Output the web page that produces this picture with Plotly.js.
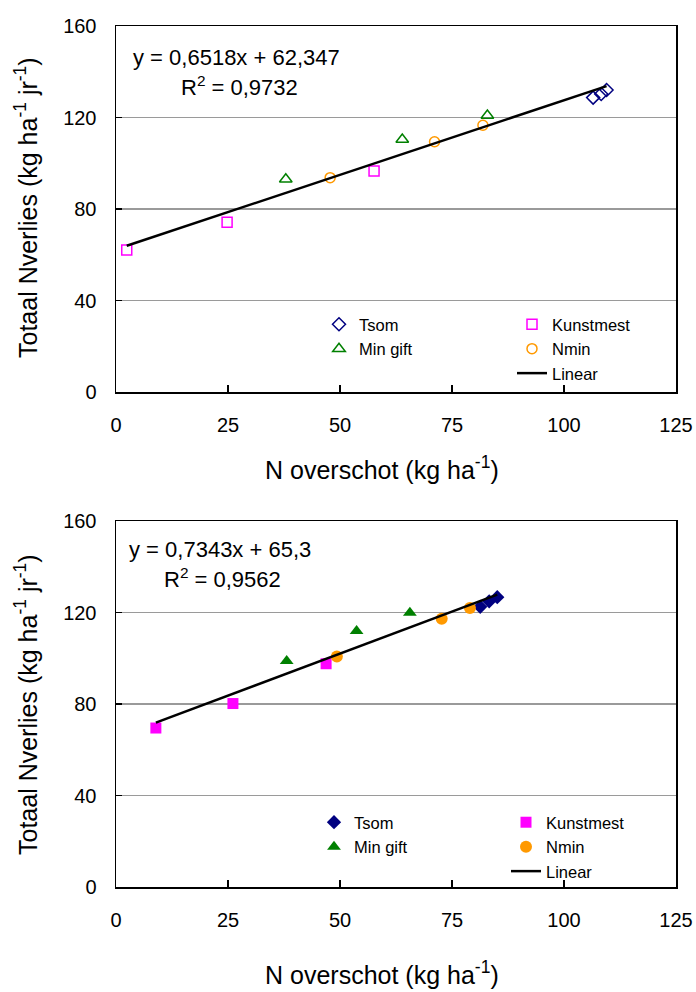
<!DOCTYPE html>
<html>
<head>
<meta charset="utf-8">
<script src="https://cdn.plot.ly/plotly-3.0.1.min.js"></script>
<style>html,body{margin:0;padding:0;background:#fff;}#chart{width:696px;height:992px;}</style>
</head>
<body>
<div id="chart"></div>
<script>
// ---- Data: top panel (open markers) ----
const tsomX1 = [106.5, 108.3, 109.5];
const tsomY1 = [128.7, 130.3, 132.0];
const kunstX1 = [2.4, 24.8, 57.6];
const kunstY1 = [62.1, 74.2, 96.6];
const mingiftX1 = [37.9, 63.9, 82.9];
const mingiftY1 = [93.0, 110.4, 120.9];
const nminX1 = [47.8, 71.1, 81.9];
const nminY1 = [93.7, 109.4, 116.6];
const slope1 = 0.6518, intercept1 = 62.347, r2_1 = "0,9732";

// ---- Data: bottom panel (filled markers) ----
const tsomX2 = [81.3, 83.3, 85.1];
const tsomY2 = [122.5, 124.9, 126.7];
const kunstX2 = [8.9, 26.1, 46.9];
const kunstY2 = [69.5, 80.2, 97.6];
const mingiftX2 = [38.1, 53.7, 65.6];
const mingiftY2 = [98.8, 111.9, 119.9];
const nminX2 = [49.3, 72.7, 79.0];
const nminY2 = [100.8, 117.3, 122.0];
const slope2 = 0.7343, intercept2 = 65.3, r2_2 = "0,9562";

const xTicks = [0, 25, 50, 75, 100, 125];
const yTicks = [0, 40, 80, 120, 160];
const seriesNames = ["Tsom", "Kunstmest", "Min gift", "Nmin", "Linear"];

const FONT = "Liberation Sans, Arial, sans-serif";
const colors = {tsom: "#000080", kunst: "#FF00FF", min: "#008000", nmin: "#FF9900"};

function trend(xs, a, b) {
  const lo = Math.min(...xs), hi = Math.max(...xs);
  return {x: [lo, hi], y: [a * lo + b, a * hi + b]};
}
const all1 = [].concat(tsomX1, kunstX1, mingiftX1, nminX1);
const all2 = [].concat(tsomX2, kunstX2, mingiftX2, nminX2);
const t1 = trend(all1, slope1, intercept1);
const t2 = trend(all2, slope2, intercept2);

function fmt(v) { return String(v).replace('.', ','); }

function sc(x, y, name, sym, color, size, xa, ya, leg, open) {
  return {
    type: "scatter", mode: "markers", x: x, y: y, name: name,
    xaxis: xa, yaxis: ya, legend: leg,
    marker: open ? {symbol: sym, size: size, color: color, line: {color: color, width: 1.5}}
                 : {symbol: sym, size: size, color: color, line: {width: 0}},
    cliponaxis: false
  };
}
function dummy(xa, ya, leg) {
  return {type: "scatter", mode: "markers", x: [null], y: [null], name: " ",
    xaxis: xa, yaxis: ya, legend: leg,
    marker: {color: "rgba(0,0,0,0)", size: 0, line: {width: 0, color: "rgba(0,0,0,0)"}}, hoverinfo: "skip"};
}
function line(t, xa, ya, leg) {
  return {type: "scatter", mode: "lines", x: t.x, y: t.y, name: seriesNames[4],
    xaxis: xa, yaxis: ya, legend: leg, line: {color: "#000", width: 2.5}};
}

const data = [
  sc(tsomX1, tsomY1, seriesNames[0], "diamond-open", colors.tsom, 10, "x", "y", "legend", true),
  sc(kunstX1, kunstY1, seriesNames[1], "square-open", colors.kunst, 10, "x", "y", "legend", true),
  sc(mingiftX1, mingiftY1, seriesNames[2], "triangle-up-open", colors.min, 11, "x", "y", "legend", true),
  sc(nminX1, nminY1, seriesNames[3], "circle-open", colors.nmin, 10, "x", "y", "legend", true),
  dummy("x", "y", "legend"),
  line(t1, "x", "y", "legend"),
  sc(tsomX2, tsomY2, seriesNames[0], "diamond", colors.tsom, 11, "x2", "y2", "legend2", false),
  sc(kunstX2, kunstY2, seriesNames[1], "square", colors.kunst, 11, "x2", "y2", "legend2", false),
  sc(mingiftX2, mingiftY2, seriesNames[2], "triangle-up", colors.min, 12, "x2", "y2", "legend2", false),
  sc(nminX2, nminY2, seriesNames[3], "circle", colors.nmin, 12, "x2", "y2", "legend2", false),
  dummy("x2", "y2", "legend2"),
  line(t2, "x2", "y2", "legend2")
];

const W = 696, H = 992;
const ML = 116, MR = 20, MT = 26, MB = 105;
const GW = W - ML - MR, GH = H - MT - MB;
function px(v) { return (v - ML) / GW; }
function py(v) { return (H - MB - v) / GH; }

function xaxis(anchor) {
  return {domain: [0, 1], anchor: anchor, range: [0, 125], tickvals: xTicks,
    ticktext: xTicks.map(String), ticks: "inside", ticklen: 7, tickwidth: 1.3, tickcolor: "#000",
    showline: true, linecolor: "#000", linewidth: 1.5, mirror: true, showgrid: false, zeroline: false,
    tickfont: {family: FONT, size: 20, color: "#000"}, ticklabelstandoff: 14, fixedrange: true, automargin: false};
}
function yaxis(anchor, d0, d1) {
  return {domain: [py(d0), py(d1)], anchor: anchor, range: [0, 160], tickvals: yTicks,
    ticktext: yTicks.map(String), ticks: "inside", ticklen: 6, tickwidth: 1.3, tickcolor: "#000",
    showline: true, linecolor: "#000", linewidth: 1.5, mirror: true,
    showgrid: true, gridcolor: "#9a9a9a", gridwidth: 1.3, zeroline: false,
    tickfont: {family: FONT, size: 20, color: "#000"}, ticklabelstandoff: 14, fixedrange: true, automargin: false};
}

const ytitle = "Totaal Nverlies (kg ha<sup>-1</sup> jr<sup>-1</sup>)";
const xtitle = "N overschot (kg ha<sup>-1</sup>)";
const annFont = {family: FONT, size: 22, color: "#000"};
const titleFont = {family: FONT, size: 25, color: "#000"};

function ann(text, x, y, xanchor, font, angle) {
  return {text: text, x: px(x), y: py(y), xref: "paper", yref: "paper", xanchor: xanchor, yanchor: "middle",
    showarrow: false, font: font, textangle: angle || 0};
}
const annotations = [
  ann("y = " + fmt(slope1) + "x + " + fmt(intercept1), 131, 57, "left", annFont),
  ann("R<sup>2</sup> = " + r2_1, 179, 86, "left", annFont),
  ann("y = " + fmt(slope2) + "x + " + fmt(intercept2), 127, 549, "left", annFont),
  ann("R<sup>2</sup> = " + r2_2, 162, 578, "left", annFont),
  ann(xtitle, 382, 468, "center", titleFont),
  ann(xtitle, 382, 973, "center", titleFont),
  ann(ytitle, 26, 208, "center", titleFont, -90),
  ann(ytitle, 26, 705, "center", titleFont, -90)
];

function legend(x, y, ew) {
  return {orientation: "h", x: px(x), y: py(y), xanchor: "left", yanchor: "top",
    entrywidth: ew, entrywidthmode: "pixels", bgcolor: "rgba(0,0,0,0)", borderwidth: 0,
    font: {family: FONT, size: 16.5, color: "#000"}, tracegroupgap: 0, itemclick: false, itemdoubleclick: false};
}

const layout = {
  width: W, height: H, margin: {l: ML, r: MR, t: MT, b: MB, pad: 0, autoexpand: false},
  paper_bgcolor: "#fff", plot_bgcolor: "#fff",
  xaxis: xaxis("y"), yaxis: yaxis("x", 392, 26),
  xaxis2: xaxis("y2"), yaxis2: yaxis("x2", 887, 521),
  showlegend: true,
  legend: legend(319, 307, 148),
  legend2: legend(314, 805, 147),
  annotations: annotations,
  font: {family: FONT}
};

Plotly.newPlot("chart", data, layout, {displayModeBar: false, staticPlot: true});
</script>
</body>
</html>
